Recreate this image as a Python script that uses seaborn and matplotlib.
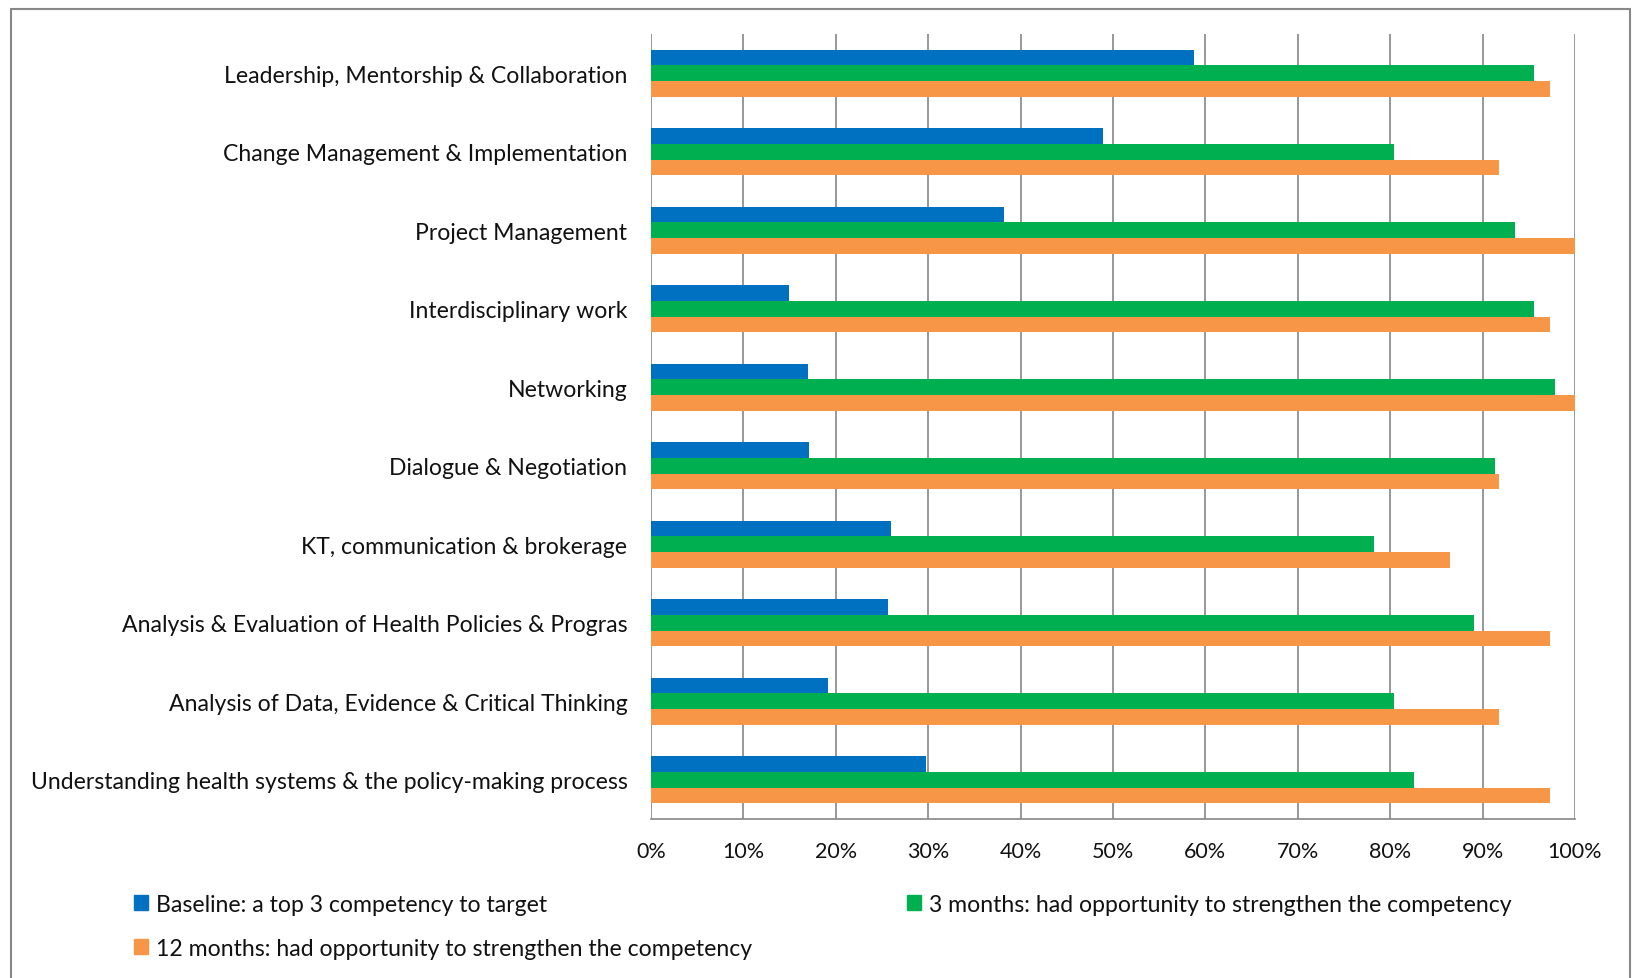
import matplotlib
matplotlib.use("Agg")
import matplotlib.pyplot as plt
import matplotlib.patches as mpatches
from matplotlib.ticker import FuncFormatter
import seaborn as sns
import pandas as pd

categories = [
    "Leadership, Mentorship & Collaboration",
    "Change Management & Implementation",
    "Project Management",
    "Interdisciplinary work",
    "Networking",
    "Dialogue & Negotiation",
    "KT, communication & brokerage",
    "Analysis & Evaluation of Health Policies & Progras",
    "Analysis of Data, Evidence & Critical Thinking",
    "Understanding health systems & the policy-making process",
]
series = [
    "Baseline: a top 3 competency to target",
    "3 months: had opportunity to strengthen the competency",
    "12 months: had opportunity to strengthen the competency",
]
baseline = [58.8, 48.9, 38.2, 14.9, 17.0, 17.1, 26.0, 25.6, 19.2, 29.8]
months3 = [95.6, 80.4, 93.5, 95.6, 97.8, 91.3, 78.2, 89.1, 80.4, 82.6]
months12 = [97.3, 91.8, 100.0, 97.3, 100.0, 91.8, 86.5, 97.3, 91.8, 97.3]
colors = ["#0070C0", "#00B050", "#F79646"]
x_ticks = list(range(0, 101, 10))

df = pd.DataFrame({
    "category": categories * 3,
    "series": [series[0]] * 10 + [series[1]] * 10 + [series[2]] * 10,
    "value": baseline + months3 + months12,
})

sns.set_theme(style="white")
plt.rcParams["font.family"] = ["Lato", "DejaVu Sans"]

fig = plt.figure(figsize=(16.33, 9.79), dpi=100)
ax = fig.add_axes([651 / 1633, 1 - 820 / 979, (1575 - 651) / 1633, (820 - 35) / 979])

sns.barplot(data=df, y="category", x="value", hue="series", order=categories,
            hue_order=series, palette=colors, orient="h", width=0.6,
            saturation=1, ax=ax, legend=False, linewidth=0)

ax.set_xlim(0, 100)
ax.set_ylim(9.5, -0.5)
ax.set_xticks(x_ticks)
ax.xaxis.set_major_formatter(FuncFormatter(lambda v, p: f"{int(v)}%"))
ax.set_xlabel("")
ax.set_ylabel("")
ax.grid(axis="x", color="#868686", linewidth=1.2)
ax.grid(axis="y", visible=False)
ax.set_axisbelow(True)
for s in ["top", "right", "left"]:
    ax.spines[s].set_visible(False)
ax.spines["bottom"].set_color("#868686")
ax.spines["bottom"].set_linewidth(1.2)
ax.tick_params(axis="y", length=0, pad=17, labelsize=16.6, labelcolor="#111111")
ax.tick_params(axis="x", length=0, pad=16, labelsize=15.5, labelcolor="#111111")

handles = [mpatches.Patch(color=c, label=s) for c, s in zip(colors, series)]
order = [0, 2, 1]
fig.legend([handles[i] for i in order], [series[i] for i in order],
           loc="upper left", bbox_to_anchor=(113 / 1633, 1 - 874 / 979),
           ncol=2, frameon=False, fontsize=16.6, handlelength=0.6, handleheight=0.6,
           handletextpad=0.35, columnspacing=6.72, labelspacing=0.99,
           labelcolor="#111111")

frame = mpatches.Rectangle((11 / 1633, -0.05), (1630 - 11) / 1633, 1.05 - 10 / 979,
                           transform=fig.transFigure, fill=False,
                           edgecolor="#888888", linewidth=1.5, clip_on=False)
fig.add_artist(frame)

fig.savefig("out.png", dpi=100)
